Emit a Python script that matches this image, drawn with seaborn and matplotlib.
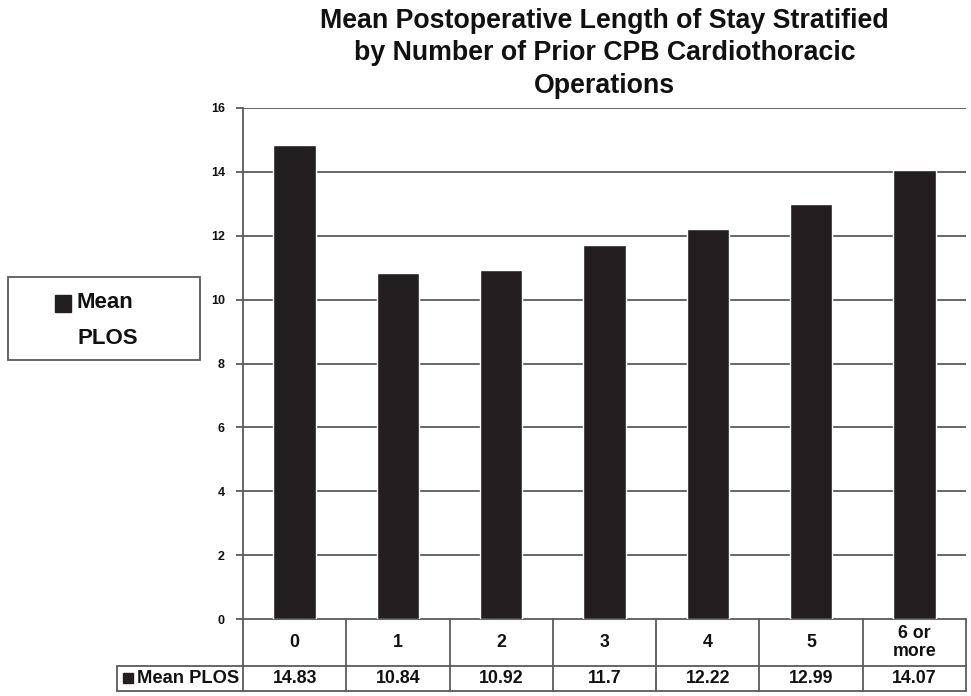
import matplotlib
matplotlib.use("Agg")
import matplotlib.pyplot as plt
import seaborn as sns
import pandas as pd
from matplotlib.patches import Rectangle
from matplotlib.lines import Line2D

categories = ["0", "1", "2", "3", "4", "5", "6 or\nmore"]
mean_plos = [14.83, 10.84, 10.92, 11.7, 12.22, 12.99, 14.07]
value_labels = ["14.83", "10.84", "10.92", "11.7", "12.22", "12.99", "14.07"]
y_ticks = [0, 2, 4, 6, 8, 10, 12, 14, 16]
series_name = "Mean PLOS"
title = ("Mean Postoperative Length of Stay Stratified\n"
         "by Number of Prior CPB Cardiothoracic\nOperations")

sns.set_theme(style="white")
plt.rcParams["font.family"] = ["Liberation Sans", "DejaVu Sans"]
plt.rcParams["font.weight"] = "bold"

bar_color = "#231f20"
line_color = "#5a5a5a"
text_color = "#111111"

W, H = 971, 696
fig = plt.figure(figsize=(W / 100, H / 100), dpi=100)
left, right, top, bottom = 243, 966, 108, 619
ax = fig.add_axes([left / W, 1 - bottom / H, (right - left) / W, (bottom - top) / H])

df = pd.DataFrame({"cat": categories, "val": mean_plos})
sns.barplot(data=df, x="cat", y="val", color=bar_color, width=0.41,
            saturation=1, ax=ax, zorder=3)
ax.set_ylim(0, 16)
ax.set_xlim(-0.5, len(categories) - 0.5)
ax.set_yticks(y_ticks)
ax.set_yticklabels([str(t) for t in y_ticks], fontsize=9, fontweight="bold")
ax.set_xticks([])
ax.set_xlabel("")
ax.set_ylabel("")
for t in y_ticks[1:]:
    ax.axhline(t, color=line_color, lw=1.3, zorder=1)
for s in ["top", "right", "bottom"]:
    ax.spines[s].set_visible(False)
ax.spines["left"].set_color(line_color)
ax.spines["left"].set_linewidth(1.3)
ax.tick_params(axis="y", length=5, width=1.3, color=line_color, pad=8,
               left=True, labelcolor=text_color)

fig.suptitle(title, x=(left + right) / 2 / W, y=1 - 8 / H,
             fontsize=19.3, fontweight="bold", linespacing=1.32, va="top",
             color=text_color)

# data table under the axis
trans = ax.get_xaxis_transform()
row_cat_bot = -(666 - bottom) / (bottom - top)
row_val_bot = -(691 - bottom) / (bottom - top)
n = len(categories)
lkw = dict(color=line_color, lw=1.3, transform=trans, clip_on=False)
ax.add_line(Line2D([-0.5, n - 0.5], [0, 0], **lkw))
ax.add_line(Line2D([-0.5, n - 0.5], [row_cat_bot, row_cat_bot], **lkw))
ax.add_line(Line2D([-0.5, n - 0.5], [row_val_bot, row_val_bot], **lkw))
for i in range(n + 1):
    ax.add_line(Line2D([i - 0.5, i - 0.5], [0, row_val_bot], **lkw))
for i, (c, v) in enumerate(zip(categories, value_labels)):
    ax.text(i, row_cat_bot / 2, c, transform=trans, ha="center", va="center",
            fontsize=12.8, fontweight="bold", color=text_color, linespacing=1.15)
    ax.text(i, (row_cat_bot + row_val_bot) / 2, v, transform=trans,
            ha="center", va="center", fontsize=12.8, fontweight="bold",
            color=text_color)

# row header cell of the table
fig_y = lambda py: 1 - py / H
fig.add_artist(Line2D([117 / W, left / W], [fig_y(666), fig_y(666)],
                      color=line_color, lw=1.3))
fig.add_artist(Line2D([117 / W, left / W], [fig_y(691), fig_y(691)],
                      color=line_color, lw=1.3))
fig.add_artist(Line2D([117 / W, 117 / W], [fig_y(666), fig_y(691)],
                      color=line_color, lw=1.3))
fig.add_artist(Rectangle((123 / W, fig_y(683)), 10 / W, 10 / H,
                         color=bar_color, transform=fig.transFigure))
fig.text(137 / W, fig_y(678.5), series_name, ha="left", va="center",
         fontsize=13.2, fontweight="bold", color=text_color)

# legend box on the left
fig.add_artist(Rectangle((8 / W, fig_y(360)), 192 / W, 83 / H, fill=False,
                         edgecolor=line_color, lw=1.3,
                         transform=fig.transFigure))
fig.add_artist(Rectangle((55 / W, fig_y(312)), 16 / W, 17 / H,
                         color=bar_color, transform=fig.transFigure))
mean_word, plos_word = series_name.split(" ")
fig.text(76 / W, fig_y(302), mean_word, ha="left", va="center", fontsize=16,
         fontweight="bold", color=text_color)
fig.text(77 / W, fig_y(338), plos_word, ha="left", va="center", fontsize=16,
         fontweight="bold", color=text_color)

fig.savefig("out.png", dpi=100)
